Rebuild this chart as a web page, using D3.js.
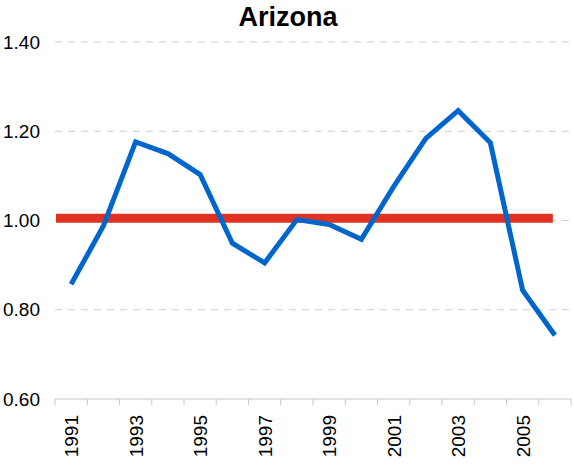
<!DOCTYPE html>
<html>
<head>
<meta charset="utf-8">
<script src="https://cdn.jsdelivr.net/npm/d3@7"></script>
<style>
  body { margin: 0; background: #fff; }
  text { font-family: Arial, "Liberation Sans", sans-serif; }
</style>
</head>
<body>
<svg id="chart" width="574" height="470"></svg>
<script>
// Yearly index for Arizona, 1991-2006
const years = [1991, 1992, 1993, 1994, 1995, 1996, 1997, 1998, 1999, 2000, 2001, 2002, 2003, 2004, 2005, 2006];
const values = [0.857, 0.988, 1.176, 1.150, 1.103, 0.949, 0.905, 1.002, 0.991, 0.958, 1.076, 1.184, 1.246, 1.174, 0.844, 0.743];
// Reference level
const refValue = 1.005;
const yTicks = [0.60, 0.80, 1.00, 1.20, 1.40];
const xLabelYears = [1991, 1993, 1995, 1997, 1999, 2001, 2003, 2005];

const svg = d3.select("#chart");
const margin = { left: 55, right: 3, top: 42, bottom: 71 };
const W = 574, H = 470;

const x = d3.scaleBand().domain(years).range([margin.left, W - margin.right]);
const y = d3.scaleLinear().domain([0.60, 1.40]).range([H - margin.bottom, margin.top]);
const cx = d => x(d) + x.bandwidth() / 2;

// Title
svg.append("text")
  .attr("x", 288).attr("y", 26)
  .attr("text-anchor", "middle")
  .attr("font-size", 27).attr("font-weight", "bold")
  .text("Arizona");

// Dashed gridlines
svg.append("g").selectAll("line")
  .data(yTicks.filter(t => t > 0.6))
  .join("line")
  .attr("x1", margin.left).attr("x2", W - margin.right)
  .attr("y1", d => y(d)).attr("y2", d => y(d))
  .attr("stroke", "#d0d0d0").attr("stroke-width", 1)
  .attr("stroke-dasharray", "7,6");

// Y axis labels
const yAxis = svg.append("g")
  .attr("transform", `translate(${margin.left},0)`)
  .call(d3.axisLeft(y).tickValues(yTicks).tickFormat(d3.format(".2f")).tickSize(0).tickPadding(15));
yAxis.select(".domain").remove();
yAxis.selectAll("text")
  .attr("font-size", 19).attr("fill", "#000")
  .attr("font-family", "Arial, 'Liberation Sans', sans-serif");

// X axis with ticks at category boundaries
const xg = svg.append("g").attr("transform", `translate(0,${y(0.60)})`);
xg.append("line")
  .attr("x1", margin.left).attr("x2", W - margin.right)
  .attr("stroke", "#c8c8c8").attr("stroke-width", 1);
xg.selectAll("line.tick")
  .data(years.concat([null]))
  .join("line")
  .attr("class", "tick")
  .attr("x1", (d, i) => i < years.length ? x(d) : x(years[years.length - 1]) + x.bandwidth())
  .attr("x2", (d, i) => i < years.length ? x(d) : x(years[years.length - 1]) + x.bandwidth())
  .attr("y1", 0).attr("y2", 6)
  .attr("stroke", "#c8c8c8");
xg.selectAll("text")
  .data(xLabelYears)
  .join("text")
  .attr("transform", d => `translate(${cx(d) + 7},16) rotate(-90)`)
  .attr("text-anchor", "end")
  .attr("font-size", 19)
  .attr("fill", "#000")
  .text(d => d);

// Reference line
svg.append("line")
  .attr("x1", x(years[0]) + 1)
  .attr("x2", cx(years[years.length - 1]) - 2)
  .attr("y1", y(refValue)).attr("y2", y(refValue))
  .attr("stroke", "#E03222").attr("stroke-width", 9);

// Series line
const line = d3.line().x((d, i) => cx(years[i])).y(d => y(d));
svg.append("path")
  .datum(values)
  .attr("d", line)
  .attr("fill", "none")
  .attr("stroke", "#0066CC")
  .attr("stroke-width", 5)
  .attr("stroke-linejoin", "miter");
</script>
</body>
</html>
